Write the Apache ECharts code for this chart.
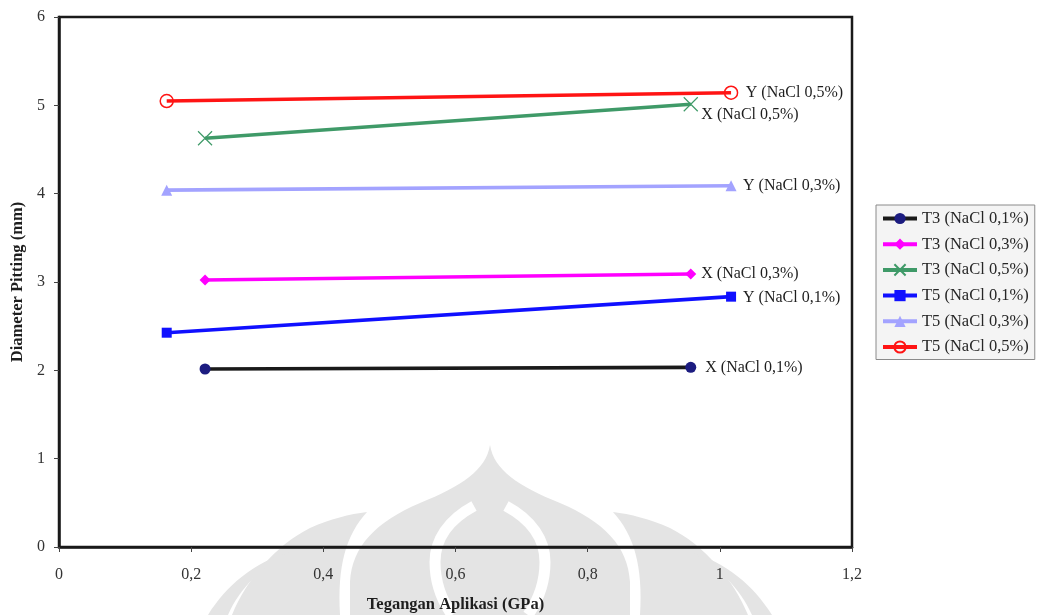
<!DOCTYPE html>
<html>
<head>
<meta charset="utf-8">
<title>Diameter Pitting vs Tegangan Aplikasi</title>
<script src="https://cdn.jsdelivr.net/npm/echarts@6/dist/echarts.min.js"></script>
<style>
  html, body { margin: 0; padding: 0; background: #ffffff; }
  #chart { width: 1038px; height: 615px; }
</style>
</head>
<body>
<div id="chart"></div>
<script>
// ---- data ----
const seriesNames = [
  'T3 (NaCl 0,1%)', 'T3 (NaCl 0,3%)', 'T3 (NaCl 0,5%)',
  'T5 (NaCl 0,1%)', 'T5 (NaCl 0,3%)', 'T5 (NaCl 0,5%)'
];
const endLabels = [
  'X (NaCl 0,1%)', 'X (NaCl 0,3%)', 'X (NaCl 0,5%)',
  'Y (NaCl 0,1%)', 'Y (NaCl 0,3%)', 'Y (NaCl 0,5%)'
];
// applied stress (GPa) for each specimen group
const xT3 = [0.221, 0.956];
const xT5 = [0.163, 1.017];
// pitting diameter (mm)
const t3Nacl01 = [2.015, 2.034];
const t3Nacl03 = [3.023, 3.09];
const t3Nacl05 = [4.627, 5.012];
const t5Nacl01 = [2.426, 2.834];
const t5Nacl03 = [4.04, 4.09];
const t5Nacl05 = [5.049, 5.143];
// tick labels (decimal comma)
const xTickLabels = ['0', '0,2', '0,4', '0,6', '0,8', '1', '1,2'];
const yTickLabels = ['0', '1', '2', '3', '4', '5', '6'];

// ---- appearance ----
const SERIF = '"Liberation Serif", "Times New Roman", serif';
const styles = [
  { line: '#1a1a1a', fill: '#1c1c80', border: '#1c1c80', bw: 0, symbol: 'circle', size: 11, dist: 9, off: [0, 0] },
  { line: '#ff00ff', fill: '#ff00ff', border: '#ff00ff', bw: 0, symbol: 'diamond', size: 11, dist: 5, off: [0, 0] },
  { line: '#3f9a68', fill: '#3f9a68', border: '#3f9a68', bw: 1.2, symbol: 'path://M0 0L10 10M10 0L0 10', size: 14, dist: 3, off: [0, 11] },
  { line: '#1010ff', fill: '#1010ff', border: '#1010ff', bw: 0, symbol: 'rect', size: 10, dist: 7, off: [0, 1.5] },
  { line: '#a3a3ff', fill: '#a3a3ff', border: '#a3a3ff', bw: 0, symbol: 'triangle', size: 11, dist: 6.5, off: [0, 0] },
  { line: '#ff1414', fill: 'rgba(255,255,255,0)', border: '#ff1414', bw: 1.5, symbol: 'circle', size: 13, dist: 7.5, off: [0, 0] }
];
const xGroups = [xT3, xT3, xT3, xT5, xT5, xT5];
const yGroups = [t3Nacl01, t3Nacl03, t3Nacl05, t5Nacl01, t5Nacl03, t5Nacl05];

const series = seriesNames.map(function (name, i) {
  const s = styles[i];
  const xs = xGroups[i], ys = yGroups[i];
  const data = xs.map(function (x, k) {
    if (k === xs.length - 1) {
      return {
        value: [x, ys[k]],
        label: {
          show: true,
          position: 'right',
          distance: s.dist,
          offset: s.off,
          formatter: endLabels[i],
          color: '#1e1e1e',
          fontFamily: SERIF,
          fontSize: 16
        }
      };
    }
    return [x, ys[k]];
  });
  return {
    name: name,
    type: 'line',
    color: s.line,
    data: data,
    symbol: s.symbol,
    symbolSize: s.size,
    showSymbol: true,
    lineStyle: { color: s.line, width: 3.6 },
    itemStyle: { color: s.fill, borderColor: s.border, borderWidth: s.bw },
    label: { show: false },
    emphasis: { disabled: true },
    animation: false,
    z: 3
  };
});

// faint emblem behind the plot, drawn in page pixels
const WM = '#e4e4e4';
const emblemParts = [
  // central petal
  { d: 'M490,445 C486,470 462,486 420,503 C376,522 352,546 350,582 L350,615 L630,615 L630,582 C628,546 604,522 560,503 C518,486 494,470 490,445 Z', fill: WM },
  // side petals
  { d: 'M367,512 C346,535 337,566 340,615 L232,615 C246,580 276,545 310,528 C330,519 350,514 367,512 Z', fill: WM },
  { d: 'M613,512 C634,535 643,566 640,615 L748,615 C734,580 704,545 670,528 C650,519 630,514 613,512 Z', fill: WM },
  // outer petals
  { d: 'M290,552 C262,566 240,588 228,615 L208,615 C226,586 254,562 290,552 Z', fill: WM },
  { d: 'M690,552 C718,566 740,588 752,615 L772,615 C754,586 726,562 690,552 Z', fill: WM },
  // inner curved openings
  { d: 'M474,506 C448,520 435,540 435,562 C435,586 443,602 452,615', stroke: '#ffffff' },
  { d: 'M506,506 C532,520 545,540 545,562 C545,586 537,602 528,615', stroke: '#ffffff' }
];
series.unshift({
  type: 'custom',
  coordinateSystem: 'none',
  silent: true,
  z: -5,
  data: [0],
  renderItem: function () {
    return {
      type: 'group',
      children: emblemParts.map(function (p) {
        return {
          type: 'path',
          shape: { pathData: p.d },
          style: p.stroke
            ? { fill: null, stroke: p.stroke, lineWidth: 11 }
            : { fill: p.fill }
        };
      })
    };
  }
});

const chart = echarts.init(document.getElementById('chart'), null, { renderer: 'canvas' });
chart.setOption({
  backgroundColor: '#ffffff',
  animation: false,
  grid: {
    left: 59, right: 186, top: 17, bottom: 68,
    outerBoundsMode: 'none',
    containLabel: false,
    show: true, borderColor: '#1a1a1a', borderWidth: 2.5, backgroundColor: 'transparent'
  },
  legend: {
    orient: 'vertical',
    left: 876, top: 205,
    padding: [5, 6, 4, 5],
    itemWidth: 34, itemHeight: 14, itemGap: 8.7,
    backgroundColor: '#f4f4f4',
    borderColor: '#8a8a8a', borderWidth: 1,
    lineStyle: { width: 4 },
    textStyle: { fontFamily: SERIF, fontSize: 16.5, color: '#262626' },
    data: seriesNames
  },
  xAxis: {
    type: 'value',
    min: 0, max: 1.2, interval: 0.2,
    name: 'Tegangan Aplikasi (GPa)',
    nameLocation: 'middle',
    nameGap: 49,
    nameTextStyle: { fontFamily: SERIF, fontSize: 16.5, fontWeight: 'bold', color: '#1e1e1e' },
    axisLine: { show: true, lineStyle: { color: '#1a1a1a', width: 2.5 } },
    axisTick: { show: true, length: 5, lineStyle: { color: '#444', width: 1 } },
    axisLabel: {
      margin: 20, fontFamily: SERIF, fontSize: 16, color: '#333',
      formatter: function (v) { return xTickLabels[Math.round(v / 0.2)]; }
    },
    splitLine: { show: false }
  },
  yAxis: {
    type: 'value',
    min: 0, max: 6, interval: 1,
    name: 'Diameter Pitting (mm)',
    nameLocation: 'middle',
    nameGap: 31,
    nameTextStyle: { fontFamily: SERIF, fontSize: 16.5, fontWeight: 'bold', color: '#1e1e1e' },
    axisLine: { show: true, lineStyle: { color: '#1a1a1a', width: 2.5 } },
    axisTick: { show: true, length: 5, lineStyle: { color: '#444', width: 1 } },
    axisLabel: {
      margin: 14, fontFamily: SERIF, fontSize: 16, color: '#333',
      formatter: function (v) { return yTickLabels[Math.round(v)]; }
    },
    splitLine: { show: false }
  },
  series: series
});
</script>
</body>
</html>
